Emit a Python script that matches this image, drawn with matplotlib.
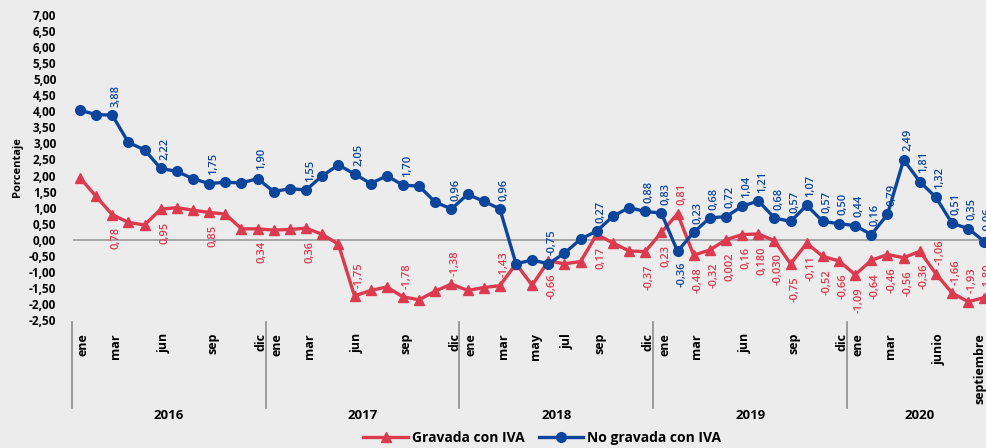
import numpy as np
import matplotlib.pyplot as plt
from matplotlib.transforms import blended_transform_factory
from matplotlib.lines import Line2D

plt.rcParams['font.family'] = ['Open Sans', 'DejaVu Sans']

# Datos mensuales ene-2016 .. sep-2020
years = ['2016', '2017', '2018', '2019', '2020']
gravada = [1.93, 1.35, 0.78, 0.54, 0.46, 0.95, 1.00, 0.92, 0.85, 0.80, 0.34, 0.34,
           0.30, 0.32, 0.36, 0.17, -0.14, -1.75, -1.58, -1.47, -1.78, -1.87, -1.60, -1.38,
           -1.58, -1.49, -1.43, -0.75, -1.42, -0.66, -0.75, -0.68, 0.17, -0.10, -0.35, -0.37,
           0.23, 0.81, -0.48, -0.32, 0.002, 0.16, 0.180, -0.030, -0.75, -0.11, -0.52, -0.66,
           -1.09, -0.64, -0.46, -0.56, -0.36, -1.06, -1.66, -1.93, -1.80]
no_gravada = [4.03, 3.90, 3.88, 3.03, 2.80, 2.22, 2.13, 1.90, 1.75, 1.79, 1.77, 1.90,
              1.50, 1.59, 1.55, 1.99, 2.33, 2.05, 1.75, 1.99, 1.70, 1.67, 1.17, 0.96,
              1.41, 1.20, 0.96, -0.75, -0.63, -0.75, -0.42, 0.02, 0.27, 0.73, 1.00, 0.88,
              0.83, -0.36, 0.23, 0.68, 0.72, 1.04, 1.21, 0.68, 0.57, 1.07, 0.57, 0.50,
              0.44, 0.16, 0.79, 2.49, 1.81, 1.32, 0.51, 0.35, -0.06]

# etiquetas de meses en el eje (indice, texto)
month_ticks = [(0, 'ene'), (2, 'mar'), (5, 'jun'), (8, 'sep'), (11, 'dic'),
               (12, 'ene'), (14, 'mar'), (17, 'jun'), (20, 'sep'), (23, 'dic'),
               (24, 'ene'), (26, 'mar'), (28, 'may'), (30, 'jul'), (32, 'sep'), (35, 'dic'),
               (36, 'ene'), (38, 'mar'), (41, 'jun'), (44, 'sep'), (47, 'dic'),
               (48, 'ene'), (50, 'mar'), (53, 'junio'), (56, 'septiembre')]

# puntos con etiqueta de dato (indice, arriba=True / abajo=False)
blue_labels = [(2, True), (5, True), (8, True), (11, True), (14, True), (17, True),
               (20, True), (23, True), (26, True), (29, True), (32, True), (35, True),
               (36, True), (37, False)] + [(i, True) for i in range(38, 57)]
red_labels = [(2, False), (5, False), (8, False), (11, False), (14, False), (17, True),
              (20, True), (23, True), (26, True), (29, False), (32, False), (35, False),
              (36, False), (37, True)] + [(i, False) for i in range(38, 53)] + \
             [(i, True) for i in range(53, 57)]

RED = '#dc3a4f'
BLUE = '#0c459b'
BG = '#ececec'

x = np.arange(len(gravada))

fig = plt.figure(figsize=(9.86, 4.48), dpi=100, facecolor=BG)
ax = fig.add_axes([73 / 986, 128 / 448, 913 / 986, 305 / 448])
ax.set_facecolor(BG)

ax.plot(x, gravada, color=RED, lw=2.4, marker='^', ms=7.5, label='Gravada con IVA')
ax.plot(x, no_gravada, color=BLUE, lw=2.4, marker='o', ms=7, label='No gravada con IVA')
ax.axhline(0, color='#9a9a9a', lw=1.2, zorder=0)


def fmt(v):
    if v in (0.002, 0.180, -0.030):
        s = f'{v:.3f}'
    else:
        s = f'{v:.2f}'
    return s.replace('.', ',')


for i, up in blue_labels:
    ax.annotate(fmt(no_gravada[i]), (x[i], no_gravada[i]),
                xytext=(3, 6 if up else -7), textcoords='offset points',
                rotation=90, ha='center', va='bottom' if up else 'top',
                color=BLUE, fontsize=8, fontweight='semibold')
for i, up in red_labels:
    ax.annotate(fmt(gravada[i]), (x[i], gravada[i]),
                xytext=(3, 6 if up else -9), textcoords='offset points',
                rotation=90, ha='center', va='bottom' if up else 'top',
                color=RED, fontsize=8, fontweight='semibold', annotation_clip=False)

ax.set_xlim(-0.43, 56.1)
ax.set_ylim(-2.5, 7.0)
ax.set_yticks(np.arange(-2.5, 7.01, 0.5))
ax.set_yticklabels([f'{v:.2f}'.replace('.', ',') for v in np.arange(-2.5, 7.01, 0.5)],
                   fontsize=8.5, fontweight='bold')
ax.tick_params(axis='y', length=0, pad=12)
ax.set_xticks([])
for s in ax.spines.values():
    s.set_visible(False)
ax.set_ylabel('Porcentaje', fontsize=8, fontweight='bold', labelpad=4)

trans = blended_transform_factory(ax.transData, fig.transFigure)
for i, m in month_ticks:
    ax.text(min(i + 0.2, 55.75), 1 - 333 / 448, m, transform=trans, rotation=90,
            ha='center', va='top', fontsize=9, fontweight='bold', clip_on=False)
for k, yr in enumerate(years):
    sep = 12 * k - 0.5
    fig.add_artist(Line2D([sep, sep], [1 - 322 / 448, 1 - 408 / 448], transform=trans,
                          color='#8c8c8c', lw=1.2))
    cx = 12 * k + 5.5 if k < 4 else 52.0
    ax.text(cx, 1 - 415 / 448, yr, transform=trans, ha='center', va='center',
            fontsize=9.5, fontweight='bold')

leg = fig.legend(loc='center', bbox_to_anchor=(0.55, 0.022), ncol=2, frameon=False,
                 prop={'size': 10, 'weight': 'bold'}, handlelength=3.2, columnspacing=1.0,
                 handletextpad=0.3)

fig.savefig('out.png', dpi=100, facecolor=BG)
